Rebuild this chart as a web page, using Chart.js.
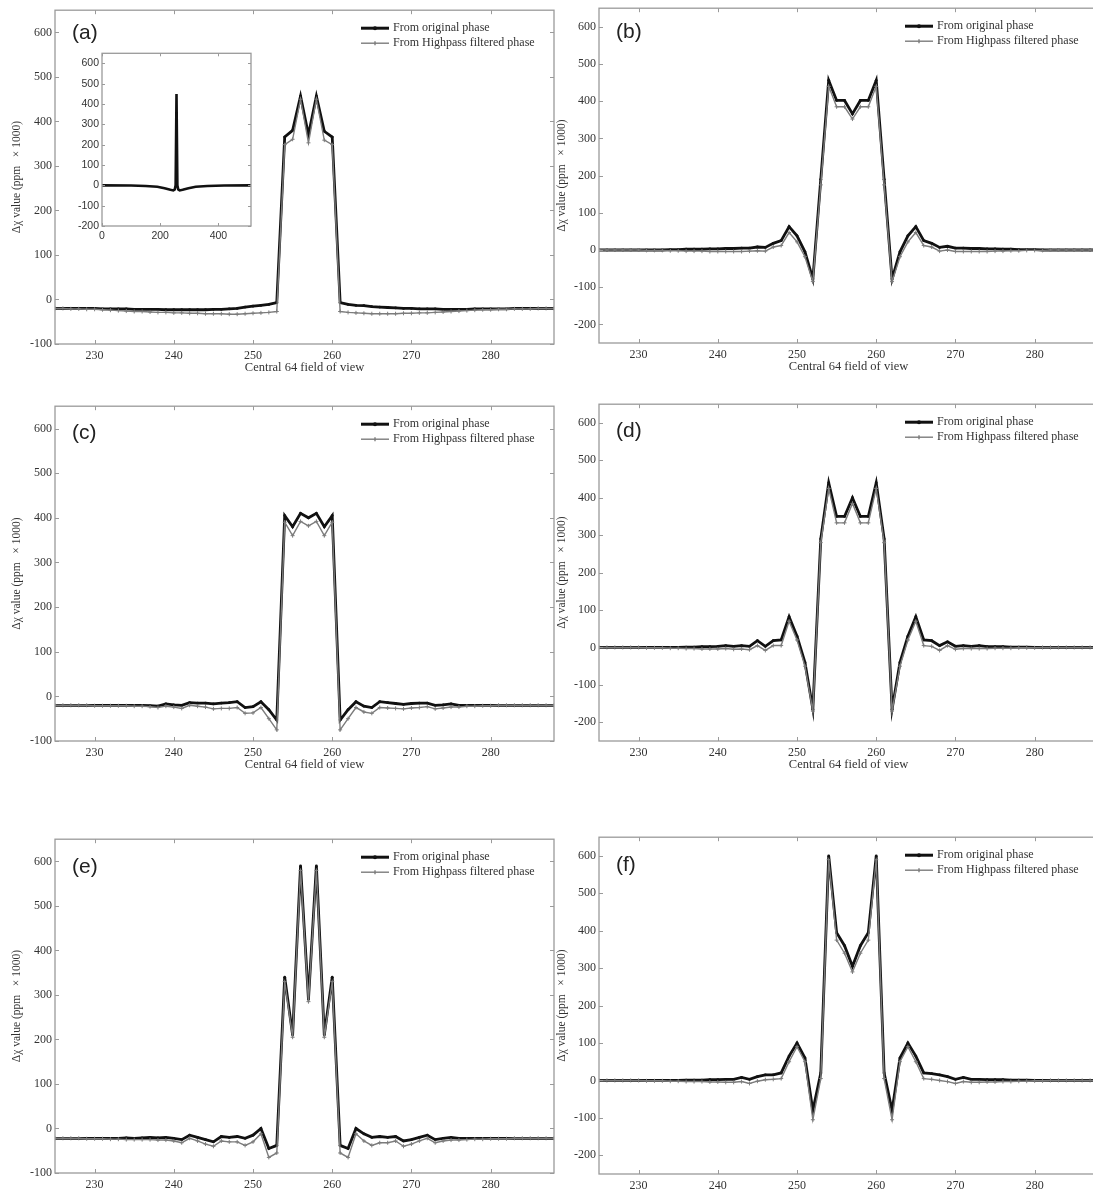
<!DOCTYPE html>
<html>
<head>
<meta charset="utf-8">
<script src="https://cdn.jsdelivr.net/npm/chart.js@4.4.1/dist/chart.umd.min.js"></script>
<style>
  html, body { margin: 0; padding: 0; background: #fff; overflow: hidden; }
  body { width: 1093px; height: 1190px; position: relative; }
  canvas { position: absolute; }
</style>
</head>
<body>
<canvas id="panelA"></canvas>
<canvas id="panelB"></canvas>
<canvas id="panelC"></canvas>
<canvas id="panelD"></canvas>
<canvas id="panelE"></canvas>
<canvas id="panelF"></canvas>
<canvas id="insetA"></canvas>
<script>
// central 64 pixels of the field of view
var fov = [225,226,227,228,229,230,231,232, 233,234,235,236,237,238,239,240,
           241,242,243,244,245,246,247,248, 249,250,251,252,253,254,255,256,
           257,258,259,260,261,262,263,264, 265,266,267,268,269,270,271,272,
           273,274,275,276,277,278,279,280, 281,282,283,284,285,286,287,288];

var origA = [-20,-20,-20,-20,-20,-20,-21,-21, -21,-21,-22,-22,-22,-22,-23,-23,
             -23,-23,-23,-23,-22,-22,-21,-20, -17,-15,-13,-11,-7,365,380,457,
             370,457,378,365,-7,-11,-13,-14, -16,-17,-18,-19,-20,-20,-21,-21,
             -21,-22,-22,-22,-22,-21,-21,-21, -21,-21,-20,-20,-20,-20,-20,-20];
var hpA   = [-20,-20,-21,-21,-22,-22,-23,-24, -25,-26,-27,-27,-28,-29,-29,-30,
             -30,-31,-31,-32,-32,-32,-33,-33, -32,-31,-30,-29,-27,348,360,450,
             352,450,358,348,-27,-29,-30,-31, -32,-32,-32,-32,-31,-31,-30,-30,
             -29,-28,-27,-26,-25,-24,-23,-23, -22,-22,-21,-21,-21,-20,-20,-20];

var origB = [0,0,0,0,0,0,0,0, 0,1,1,2,2,2,3,3,
             4,4,5,5,8,7,18,25, 63,38,-5,-78,190,456,402,402,
             366,402,402,456,190,-78,-5,38, 63,25,18,7,10,5,5,4,
             4,3,3,2,2,1,1,1, 0,0,0,0,0,0,0,0];
var hpB   = [0,0,0,0,0,0,-1,-1, -1,-2,-2,-3,-3,-3,-4,-4,
             -4,-4,-4,-3,-2,-3,8,12, 47,22,-18,-85,175,440,385,385,
             352,385,385,440,175,-85,-18,22, 47,12,8,-3,0,-4,-4,-4,
             -4,-4,-3,-3,-2,-2,-1,-1, -1,0,0,0,0,0,0,0];

var origC = [-20,-20,-20,-20,-20,-20,-20,-20, -20,-20,-20,-20,-21,-22,-17,-19,
             -20,-14,-15,-15,-17,-15,-14,-12, -25,-23,-12,-30,-53,405,380,410,
             400,410,380,405,-53,-30,-12,-22, -25,-12,-14,-16,-18,-16,-15,-15,
             -20,-19,-17,-20,-20,-20,-20,-20, -20,-20,-20,-20,-20,-20,-20,-20];
var hpC   = [-20,-20,-20,-20,-20,-21,-21,-21, -21,-21,-22,-22,-23,-25,-22,-24,
             -27,-20,-22,-24,-28,-27,-27,-25, -38,-37,-25,-50,-75,390,360,392,
             382,392,360,390,-75,-50,-25,-35, -38,-25,-26,-27,-28,-26,-25,-23,
             -28,-26,-24,-24,-22,-22,-21,-21, -20,-20,-20,-20,-20,-20,-20,-20];

var origD = [0,0,0,0,0,0,0,0, 0,0,0,1,1,2,2,3,
             5,3,5,3,18,3,18,20, 82,30,-40,-165,290,440,350,350,
             400,350,350,440,290,-165,-40,30, 82,20,18,5,15,3,5,3,
             5,2,2,2,1,1,1,0, 0,0,0,0,0,0,0,0];
var hpD   = [0,0,0,0,0,0,-1,-1, -1,-2,-2,-3,-3,-4,-4,-4,
             -3,-5,-4,-6,5,-8,5,5, 70,20,-50,-170,280,425,333,333,
             385,333,333,425,280,-170,-50,20, 70,5,3,-8,5,-5,-3,-3,
             -3,-3,-2,-2,-2,-1,-1,-1, 0,0,0,0,0,0,0,0];

var origE = [-22,-22,-22,-22,-22,-22,-22,-22, -22,-21,-22,-21,-20,-21,-20,-22,
             -25,-15,-20,-25,-30,-18,-20,-18, -22,-15,0,-45,-38,340,210,590,
             290,590,210,340,-38,-45,0,-12, -20,-18,-20,-18,-28,-25,-20,-15,
             -25,-22,-20,-22,-22,-22,-22,-22, -22,-22,-22,-22,-22,-22,-22,-22];
var hpE   = [-22,-22,-22,-22,-23,-23,-23,-24, -24,-25,-25,-25,-25,-26,-26,-28,
             -32,-22,-28,-35,-40,-28,-30,-30, -38,-30,-12,-65,-55,330,205,580,
             285,580,205,330,-55,-65,-12,-28, -38,-32,-32,-28,-40,-35,-28,-22,
             -32,-28,-26,-26,-25,-24,-24,-23, -23,-23,-22,-22,-22,-22,-22,-22];

var origF = [0,0,0,0,0,0,0,0, 0,0,0,1,1,1,2,2,
             3,3,8,3,10,15,15,20, 65,100,60,-80,20,600,395,360,
             305,360,395,600,20,-80,60,100, 65,20,18,15,10,3,8,3,
             3,2,2,2,1,1,1,0, 0,0,0,0,0,0,0,0];
var hpF   = [0,0,0,0,0,0,-1,-1, -1,-2,-2,-3,-3,-3,-4,-4,
             -5,-5,-3,-8,-2,2,3,5, 50,90,50,-105,5,590,375,340,
             290,340,375,590,5,-105,50,90, 50,5,3,0,-3,-8,-3,-5,
             -5,-4,-4,-3,-3,-2,-2,-1, -1,0,0,0,0,0,0,0];

// inset of (a): whole 512 profile
var insetX = [0,100,150,190,215,235,245,250,253,256,259,262,267,277,297,322,362,420,512];
var insetY = [0,-1,-3,-7,-14,-22,-25,-20,0,450,0,-20,-25,-22,-14,-7,-3,-1,0];

// tick labels
var xTicks = [230, 240, 250, 260, 270, 280];
var yTicksLeft = [-100, 0, 100, 200, 300, 400, 500, 600];
var yTicksRight = [-200, -100, 0, 100, 200, 300, 400, 500, 600];
var insetXTicks = [0, 200, 400];
var insetYTicks = [-200, -100, 0, 100, 200, 300, 400, 500, 600];

var serif = '"Liberation Serif", "Times New Roman", serif';
var sans = '"Liberation Sans", Arial, sans-serif';
var ink = '#333';
var frameColor = '#9a9a9a';
var blackLine = '#111';
var grayLine = '#7c7c7c';

var panels = [
  {id: 'panelA', label: '(a)', orig: origA, hp: hpA, left: 0,   top: 10,  bottom: 344,  yMin: -100, yTicks: yTicksLeft,  xTitle: true,  labelDy: 23},
  {id: 'panelB', label: '(b)', orig: origB, hp: hpB, left: 545, top: 8,   bottom: 343,  yMin: -250, yTicks: yTicksRight, xTitle: true,  labelDy: 24},
  {id: 'panelC', label: '(c)', orig: origC, hp: hpC, left: 0,   top: 406, bottom: 741,  yMin: -100, yTicks: yTicksLeft,  xTitle: true,  labelDy: 27},
  {id: 'panelD', label: '(d)', orig: origD, hp: hpD, left: 545, top: 404, bottom: 741,  yMin: -250, yTicks: yTicksRight, xTitle: true,  labelDy: 27},
  {id: 'panelE', label: '(e)', orig: origE, hp: hpE, left: 0,   top: 839, bottom: 1173, yMin: -100, yTicks: yTicksLeft,  xTitle: false, labelDy: 28},
  {id: 'panelF', label: '(f)', orig: origF, hp: hpF, left: 545, top: 837, bottom: 1174, yMin: -250, yTicks: yTicksRight, xTitle: false, labelDy: 28}
];

// MATLAB style box: frame, inward ticks on all four sides, label and legend
var matlabAxes = {
  id: 'matlabAxes',
  beforeDraw: function(chart, args, opts) {
    var a = chart.chartArea;
    chart.ctx.save();
    chart.ctx.fillStyle = '#fff';
    chart.ctx.fillRect(a.left, a.top, a.right - a.left, a.bottom - a.top);
    chart.ctx.restore();
  },
  afterDraw: function(chart, args, opts) {
    var ctx = chart.ctx, a = chart.chartArea;
    var xs = chart.scales.x, ys = chart.scales.y;
    var tl = opts.tickLen || 4;
    ctx.save();
    ctx.strokeStyle = frameColor;
    ctx.lineWidth = 1.3;
    ctx.strokeRect(a.left, a.top, a.right - a.left, a.bottom - a.top);
    ctx.lineWidth = 1;
    ctx.beginPath();
    xs.ticks.forEach(function(t) {
      var px = Math.round(xs.getPixelForValue(t.value)) + 0.5;
      ctx.moveTo(px, a.bottom); ctx.lineTo(px, a.bottom - tl);
      ctx.moveTo(px, a.top); ctx.lineTo(px, a.top + tl);
    });
    ys.ticks.forEach(function(t) {
      var py = Math.round(ys.getPixelForValue(t.value)) + 0.5;
      ctx.moveTo(a.left, py); ctx.lineTo(a.left + tl, py);
      ctx.moveTo(a.right, py); ctx.lineTo(a.right - tl, py);
    });
    ctx.stroke();

    if (opts.label) {
      ctx.fillStyle = '#222';
      ctx.font = '21px ' + sans;
      ctx.textBaseline = 'middle';
      ctx.textAlign = 'left';
      ctx.fillText(opts.label, a.left + 17, a.top + opts.labelDy);
    }
    if (opts.legend) {
      var lx = a.right - 193, tx = a.right - 161;
      var r1 = a.top + 18, r2 = a.top + 33;
      ctx.strokeStyle = blackLine;
      ctx.lineWidth = 3;
      ctx.beginPath(); ctx.moveTo(lx, r1); ctx.lineTo(lx + 28, r1); ctx.stroke();
      ctx.fillStyle = blackLine;
      ctx.beginPath(); ctx.arc(lx + 14, r1, 2, 0, Math.PI * 2); ctx.fill();
      ctx.strokeStyle = grayLine;
      ctx.lineWidth = 1.4;
      ctx.beginPath(); ctx.moveTo(lx, r2); ctx.lineTo(lx + 28, r2); ctx.stroke();
      ctx.beginPath(); ctx.moveTo(lx + 14, r2 - 2); ctx.lineTo(lx + 14, r2 + 2); ctx.stroke();
      ctx.fillStyle = ink;
      ctx.font = '12px ' + serif;
      ctx.textBaseline = 'middle';
      ctx.fillText('From original phase', tx, r1);
      ctx.fillText('From Highpass filtered phase', tx, r2);
    }
    ctx.restore();
  }
};

function toPoints(xs, ys) {
  return xs.map(function(x, i) { return {x: x, y: ys[i]}; });
}

function fixedTicks(values) {
  return function(scale) {
    scale.ticks = values.map(function(v) { return {value: v}; });
  };
}

function buildPanel(p) {
  var canvas = document.getElementById(p.id);
  var xAxisH = p.xTitle ? 36 : 22;
  var yWidth = p.left === 0 ? 55 : 54;
  canvas.width = 560;
  canvas.height = (p.bottom - p.top) + 10 + xAxisH;
  canvas.style.left = p.left + 'px';
  canvas.style.top = (p.top - 10) + 'px';

  new Chart(canvas, {
    type: 'line',
    data: {
      datasets: [
        {
          label: 'From Highpass filtered phase',
          data: toPoints(fov, p.hp),
          borderColor: grayLine,
          borderWidth: 1.4,
          pointStyle: 'cross',
          pointRadius: 2,
          pointBorderColor: grayLine,
          pointBorderWidth: 1,
          tension: 0
        },
        {
          label: 'From original phase',
          data: toPoints(fov, p.orig),
          borderColor: blackLine,
          borderWidth: 2.8,
          pointRadius: 1.4,
          pointBackgroundColor: blackLine,
          pointBorderWidth: 0,
          tension: 0
        }
      ]
    },
    options: {
      responsive: false,
      animation: false,
      devicePixelRatio: 1,
      layout: {padding: {left: 0, right: 560 - yWidth - 499, top: 10, bottom: 0}},
      plugins: {
        legend: {display: false},
        tooltip: {enabled: false},
        matlabAxes: {label: p.label, labelDy: p.labelDy, legend: true}
      },
      scales: {
        x: {
          type: 'linear', min: 225, max: 288,
          afterBuildTicks: fixedTicks(xTicks),
          ticks: {padding: 5, maxRotation: 0, autoSkip: false,
                  color: ink, font: {family: serif, size: 12}},
          grid: {display: false, drawTicks: false},
          border: {display: false},
          title: {display: p.xTitle, text: 'Central 64 field of view', color: ink,
                  font: {family: serif, size: 12.5}, padding: {top: 0, bottom: 5}},
          afterFit: function(s) { s.height = xAxisH; }
        },
        y: {
          type: 'linear', min: p.yMin, max: 650,
          afterBuildTicks: fixedTicks(p.yTicks),
          ticks: {padding: 3, autoSkip: false,
                  color: ink, font: {family: serif, size: 12}},
          grid: {display: false, drawTicks: false},
          border: {display: false},
          title: {display: true, text: 'Δχ value (ppm   × 1000)', color: ink,
                  font: {family: serif, size: 11.5}, padding: {top: 10, bottom: 0}},
          afterFit: function(s) { s.width = yWidth; }
        }
      }
    },
    plugins: [matlabAxes]
  });
}

panels.forEach(buildPanel);

// inset inside panel (a)
(function() {
  var canvas = document.getElementById('insetA');
  canvas.width = 190;
  canvas.height = 205;
  canvas.style.left = '70px';
  canvas.style.top = '44px';
  new Chart(canvas, {
    type: 'line',
    data: {
      datasets: [{
        data: toPoints(insetX, insetY),
        borderColor: blackLine,
        borderWidth: 2.6,
        pointRadius: 0,
        tension: 0
      }]
    },
    options: {
      responsive: false,
      animation: false,
      devicePixelRatio: 1,
      layout: {padding: {left: 0, right: 9, top: 6, bottom: 0}},
      plugins: {legend: {display: false}, tooltip: {enabled: false}, matlabAxes: {tickLen: 3}},
      scales: {
        x: {
          type: 'linear', min: 0, max: 512,
          afterBuildTicks: fixedTicks(insetXTicks),
          ticks: {padding: 4, maxRotation: 0, autoSkip: false,
                  color: ink, font: {family: sans, size: 10.5}},
          grid: {display: false, drawTicks: false},
          border: {display: false},
          afterFit: function(s) { s.height = 23; }
        },
        y: {
          type: 'linear', min: -200, max: 650,
          afterBuildTicks: fixedTicks(insetYTicks),
          ticks: {padding: 3, autoSkip: false,
                  color: ink, font: {family: sans, size: 10.5}},
          grid: {display: false, drawTicks: false},
          border: {display: false},
          afterFit: function(s) { s.width = 32; }
        }
      }
    },
    plugins: [matlabAxes]
  });
})();
</script>
</body>
</html>
